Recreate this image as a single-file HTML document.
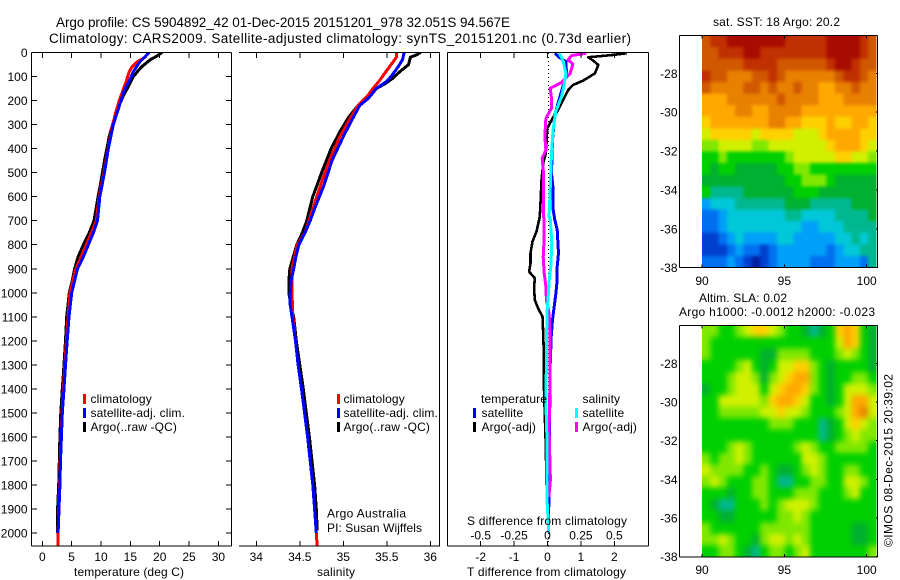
<!DOCTYPE html>
<html>
<head>
<meta charset="utf-8">
<title>Argo profile</title>
<style>
html,body{margin:0;padding:0;background:#fff;width:900px;height:580px;overflow:hidden}
svg{display:block}
text{font-family:"Liberation Sans",sans-serif;font-size:12px;fill:#000}
.t{font-size:13.5px}
.lg{letter-spacing:.12px}
</style>
</head>
<body>
<svg id="chart" xmlns="http://www.w3.org/2000/svg" width="900" height="580" viewBox="0 0 900 580">
<defs>
<clipPath id="clipSst"><rect x="702" y="35.5" width="174.5" height="231.5"/></clipPath>
<clipPath id="clipSla"><rect x="702" y="325.7" width="174.5" height="231"/></clipPath>
<clipPath id="clipP1"><rect x="32" y="52" width="199" height="494"/></clipPath>
<clipPath id="clipP2"><rect x="239" y="52" width="200" height="494"/></clipPath>
<clipPath id="clipP3"><rect x="448" y="52" width="200" height="494"/></clipPath>
</defs>
<rect x="0" y="0" width="900" height="580" fill="#fff"/>
<text class="t" x="56" y="27" textLength="454" lengthAdjust="spacing">Argo profile: CS 5904892_42 01-Dec-2015 20151201_978 32.051S 94.567E</text>
<text class="t" x="49" y="43" textLength="582" lengthAdjust="spacing">Climatology: CARS2009. Satellite-adjusted climatology: synTS_20151201.nc (0.73d earlier)</text>
<g id="layer"></g>
<text x="74" y="576" textLength="110" lengthAdjust="spacing">temperature (deg C)</text>
<text x="317" y="576" textLength="38" lengthAdjust="spacing">salinity</text>
<text x="467" y="576" textLength="159" lengthAdjust="spacing">T difference from climatology</text>
<text x="467" y="525" textLength="160" lengthAdjust="spacing">S difference from climatology</text>
<text x="327" y="517.5" textLength="79" lengthAdjust="spacing">Argo Australia</text>
<text x="327" y="532" textLength="95" lengthAdjust="spacing">PI: Susan Wijffels</text>
<text x="713" y="26" textLength="127" lengthAdjust="spacing">sat. SST: 18 Argo: 20.2</text>
<text x="699" y="302" textLength="88" lengthAdjust="spacing">Altim. SLA: 0.02</text>
<text x="679" y="316" textLength="196" lengthAdjust="spacing">Argo h1000: -0.0012 h2000: -0.023</text>
<text transform="translate(892.5,547) rotate(-90)" textLength="173" lengthAdjust="spacing">©IMOS 08-Dec-2015 20:39:02</text>
</svg>
<script>
// ---------- tick labels ----------
const depthTicks = [0,100,200,300,400,500,600,700,800,900,1000,1100,1200,1300,1400,1500,1600,1700,1800,1900,2000];
const tempTicks = [0,5,10,15,20,25,30];
const salTicks = [34,34.5,35,35.5,36];
const tDiffTicks = [-2,-1,0,1,2];
const sDiffTicks = [-0.5,-0.25,0,0.25,0.5];
const lonTicks = [90,95,100];
const latTicks = [-28,-30,-32,-34,-36,-38];

// ---------- temperature profiles ----------
const tempClimDepth = [0,20,40,60,80,120,160,200,250,300,400,500,600,700,800,900,1000,1100,1200,1300,1400,1500,1600,1700,1800,1900,2000,2055];
const tempClimVals = [18.1,17.5,16.1,15.3,14.8,14.3,13.7,13.1,12.5,12,11.2,10.5,9.7,9.2,7.5,5.7,4.7,4.4,4.1,3.85,3.6,3.35,3.2,3.05,2.95,2.8,2.7,2.7];
const tempSatDepth = [0,40,80,110,150,200,300,400,500,600,700,750,800,850,900,950,1000,1100,1200,1300,1400,1500,1600,1700,1800,1900,2000];
const tempSatVals = [18.2,16.6,15.5,15,14.1,13.4,12.1,11.25,10.6,9.8,9.4,8.7,7.85,7,6,5.5,5,4.55,4.25,3.95,3.7,3.4,3.25,3.1,3,2.85,2.7];
const tempArgoDepth = [0,15,30,60,100,140,180,220,280,350,450,550,600,700,750,800,850,900,950,1000,1100,1200,1300,1400,1500,1600,1700,1800,1900,2000];
const tempArgoVals = [20.4,19.5,18.4,16.9,15.5,14.7,13.8,13.1,12.2,11.4,10.6,9.9,9.5,8.8,8,7,6.1,5.5,5.1,4.6,4.15,3.95,3.7,3.4,3.15,3,2.9,2.8,2.6,2.6];

// ---------- salinity profiles ----------
const salClimDepth = [0,20,40,80,120,150,180,220,280,350,450,550,650,750,800,900,1000,1100,1200,1300,1400,1500,1600,1700,1800,1900,2000,2055];
const salClimVals = [35.61,35.61,35.57,35.49,35.41,35.34,35.28,35.17,35.07,34.96,34.84,34.74,34.65,34.56,34.47,34.41,34.41,34.42,34.45,34.48,34.52,34.555,34.59,34.62,34.65,34.67,34.69,34.7];
const salSatDepth = [0,30,60,90,120,150,190,220,280,350,450,550,650,700,750,800,850,900,950,1000,1050,1100,1200,1300,1400,1500,1600,1700,1800,1900,2000];
const salSatVals = [35.7,35.68,35.63,35.57,35.5,35.38,35.29,35.19,35.1,35,34.87,34.78,34.67,34.62,34.56,34.49,34.455,34.43,34.4,34.39,34.39,34.41,34.45,34.48,34.52,34.555,34.59,34.62,34.65,34.67,34.69];
const salArgoDepth = [0,10,20,50,80,110,130,150,180,220,270,330,400,500,600,700,750,800,850,900,950,1000,1050,1100,1200,1300,1400,1500,1600,1700,1800,1900,1990];
const salArgoVals = [35.89,35.84,35.77,35.75,35.65,35.56,35.48,35.38,35.28,35.17,35.06,34.96,34.86,34.75,34.65,34.58,34.53,34.465,34.425,34.385,34.375,34.375,34.395,34.43,34.46,34.5,34.54,34.575,34.61,34.64,34.67,34.69,34.7];

// ---------- difference profiles ----------
const tDiffArgoDepth = [3,10,20,34,52,87,117,135,156,191,239,274,316,378,420,461,531,600,683,697,745,787,835,877,912,939,981,1030,1064,1099,1168,1251,1376,1640,1800];
const tDiffArgoVals = [2.37,1.97,1.22,1.37,1.52,1.42,1.07,0.77,0.62,0.49,0.32,0.15,-0.01,-0.03,-0.05,-0.13,-0.18,-0.2,-0.23,-0.25,-0.33,-0.45,-0.51,-0.51,-0.55,-0.38,-0.4,-0.38,-0.28,-0.15,-0.13,-0.11,-0.11,-0.05,-0.03];
const tDiffSatDepth = [3,24,38,87,128,184,260,364,503,572,655,697,738,835,891,946,1002,1057,1113,1182,1349,1460,2000];
const tDiffSatVals = [0.22,0.39,0.55,0.57,0.49,0.37,0.22,0.15,0.12,0.17,0.17,0.22,0.29,0.33,0.29,0.29,0.25,0.2,0.15,0.11,0.07,0.07,0.03];
const sDiffArgoDepth = [3,13,31,48,87,125,149,191,232,274,350,406,440,503,683,697,794,850,919,974,1030,1085,1168,1390,1570,1780,1850];
const sDiffArgoVals = [0.29,0.18,0.155,0.19,0.17,0.105,0.02,0.03,0.03,-0.012,-0.02,-0.012,-0.04,-0.03,-0.03,-0.025,-0.027,-0.032,-0.025,-0.012,-0.008,0.012,0.018,0.018,0.012,0.022,0.01];
const sDiffSatDepth = [3,38,87,142,184,246,322,420,545,683,697,794,891,953,1016,1071,1210,1390,1500,1640,1875,1987,2000];
const sDiffSatVals = [0.088,0.118,0.138,0.122,0.105,0.062,0.042,0.03,0.022,0.012,0.022,0.032,0.025,0.012,0.005,-0.002,-0.008,-0.01,-0.01,-0.002,-0.002,0.008,0.008];

// ---------- map colour levels (rows north to south, columns 90E to 100.5E) ----------
const sstLevels = [
[13,14,14,15,15,15,15,15,15,15,14,14,14,14,14,15,15,15,15,14,13],
[13,13,14,14,14,15,15,14,14,14,14,14,14,14,14,15,15,15,15,14,13],
[13,13,13,13,13,14,14,14,14,13,13,13,13,13,13,14,15,15,14,13,13],
[14,13,13,12,12,12,13,13,14,13,12,12,12,12,12,12,13,14,14,13,12],
[13,12,12,12,12,13,13,12,13,12,12,13,12,12,11,11,12,12,13,12,12],
[11,11,11,12,12,12,12,12,12,13,12,12,12,12,11,11,11,12,12,12,12],
[11,11,11,11,12,12,11,11,12,12,12,12,11,11,11,11,11,11,11,11,11],
[10,11,11,11,11,11,11,11,12,12,11,11,10,10,10,11,10,10,11,11,10],
[9,10,10,10,10,10,9,10,10,10,10,9,9,9,10,11,11,11,11,10,10],
[8,8,9,9,9,9,8,8,9,9,9,9,9,9,9,10,11,11,11,10,9],
[7,7,8,7,7,7,7,7,7,7,8,9,9,9,9,9,10,10,9,9,8],
[7,6,7,7,6,6,6,6,6,7,7,8,8,7,7,7,7,7,7,7,7],
[6,6,6,6,6,6,6,6,6,6,7,7,8,8,8,7,6,6,6,6,6],
[7,5,5,5,5,6,6,6,6,6,6,7,7,7,6,6,6,6,6,6,6],
[3,4,4,4,5,5,5,5,5,5,6,6,6,5,5,5,5,5,6,6,6],
[2,2,3,4,4,4,4,4,4,4,5,5,4,4,4,4,5,5,5,5,6],
[2,2,3,4,4,4,4,4,4,4,4,4,3,3,4,4,4,5,5,5,5],
[1,1,2,3,4,3,3,3,3,4,4,3,3,3,3,3,4,4,5,4,5],
[1,1,1,2,3,2,2,1,2,3,3,3,3,3,3,2,3,4,4,5,5],
[2,2,2,3,2,1,0,1,2,3,3,3,3,2,2,2,3,3,3,2,5]
];
const slaLevels = [
[8,8,7,7,8,9,10,10,9,8,7,7,6,5,6,7,10,11,10,7,6],
[8,7,7,7,7,7,7,7,7,7,7,7,7,7,7,7,9,11,10,7,6],
[8,7,7,7,7,7,7,6,6,8,8,8,8,7,7,7,8,9,8,7,6],
[7,7,7,7,8,9,7,6,7,9,9,10,10,8,7,6,7,7,7,7,6],
[7,7,7,8,9,9,8,6,8,9,10,11,11,8,7,6,7,7,8,8,7],
[6,7,7,8,9,9,9,7,9,10,11,11,10,8,7,6,7,9,9,9,8],
[7,7,9,9,9,9,9,8,10,11,11,10,9,7,7,6,7,9,11,11,9],
[7,7,8,8,8,8,8,9,9,10,9,9,8,7,7,7,8,9,11,12,9],
[7,7,7,7,7,7,7,7,8,8,8,7,7,7,5,6,7,9,10,9,8],
[7,7,7,7,7,7,7,7,7,7,7,7,7,7,5,6,7,8,9,8,8],
[7,7,7,8,9,8,7,7,7,7,7,8,9,8,7,7,8,8,8,8,7],
[8,7,8,8,9,8,7,7,7,7,7,7,9,9,8,7,7,7,7,7,7],
[9,8,8,8,8,7,7,8,7,6,6,7,8,9,8,7,7,8,8,7,7],
[8,9,8,7,7,7,8,8,7,5,5,7,7,8,8,7,7,9,9,8,7],
[7,7,7,6,7,7,8,8,7,7,7,8,8,8,7,7,7,8,9,7,7],
[7,6,5,5,7,7,7,8,7,8,9,9,9,8,7,7,7,7,7,7,7],
[7,7,6,6,7,7,7,7,7,8,8,9,8,7,7,7,7,7,7,7,7],
[8,7,7,7,7,7,7,8,8,8,8,8,8,7,7,7,7,7,6,6,7],
[8,8,9,8,7,7,6,8,9,9,8,9,8,7,7,7,7,7,6,6,7],
[7,7,8,8,7,6,5,7,8,8,7,8,9,7,7,7,7,7,7,7,8]
];
const levelColors = ["#0020a0","#0040d0","#0070f0","#00a0f8","#00c8d8","#00b890","#00b030","#00d000","#80e800","#d0f000","#ffd000","#ffa800","#e88000","#d05800","#c03000","#a80c00"];

// ---------- axis functions ----------
const NS = "http://www.w3.org/2000/svg";
const layer = document.getElementById("layer");
const yDepth = d => 52.5 + 0.2403 * d;
const xTemp = v => 42.3 + 5.87 * v;
const xSal = v => 256.3 + 87 * (v - 34);
const xTDiff = v => 547.5 + 33.4 * v;
const xSDiff = v => 547.5 + 133.6 * v;
const xLon = v => 702 + 16.47 * (v - 90);
const yLatSst = v => 73.4 + 19.42 * (-28 - v);
const yLatSla = v => 363.3 + 19.34 * (-28 - v);

function add(parent, tag, attrs) {
  const el = document.createElementNS(NS, tag);
  for (const k in attrs) el.setAttribute(k, attrs[k]);
  parent.appendChild(el);
  return el;
}
function seg(parent, x1, y1, x2, y2) {
  const el = add(parent, "line", {x1: x1, y1: y1, x2: x2, y2: y2, stroke: "#000", "stroke-width": 1, "shape-rendering": "crispEdges"});
  
  
  return el;
}
function label(parent, x, y, str, anchor) {
  const el = add(parent, "text", {x: x, y: y, "text-anchor": anchor});
  el.textContent = str;
  
  
  return el;
}
function profile(parent, clip, depths, vals, xFn, color, width, name) {
  const pts = depths.map((d, i) => xFn(vals[i]).toFixed(1) + "," + yDepth(d).toFixed(1)).join(" ");
  const el = add(parent, "polyline", {points: pts, fill: "none", stroke: color, "stroke-width": width, "stroke-linejoin": "round", "clip-path": "url(#" + clip + ")", "shape-rendering": "crispEdges"});
  
  
}
function legendRow(parent, barX, textX, baseline, color, str) {
  if (color) {
    const bar = add(parent, "rect", {x: barX, y: baseline - 9, width: 3, height: 10, fill: color});
    
    
  }
  const t = add(parent, "text", {x: textX, y: baseline, class: "lg"});
  t.textContent = str;
  
  
}
function heatmap(parent, levels, left, top, width, height, clip, blur, name) {
  const outer = add(parent, "g", {"clip-path": "url(#" + clip + ")"});
  
  
  const inner = add(outer, "g", blur ? {style: "filter:blur(" + blur + "px)"} : {});
  const rows = levels.length, cols = levels[0].length;
  const cw = width / cols, ch = height / rows;
  levels.forEach((row, r) => row.forEach((v, c) => {
    let x = left + c * cw, y = top + r * ch, w = cw + 0.6, h = ch + 0.6;
    if (c === 0) { x -= 10; w += 10; }
    if (c === cols - 1) { w += 10; }
    if (r === 0) { y -= 10; h += 10; }
    if (r === rows - 1) { h += 10; }
    const cell = add(inner, "rect", {x: x.toFixed(2), y: y.toFixed(2), width: w.toFixed(2), height: h.toFixed(2), fill: levelColors[Math.max(0, Math.min(levelColors.length - 1, Math.round(v)))], "shape-rendering": "crispEdges"});
    
    
  }));
}

// ---------- panel 1: temperature ----------
const p1 = add(layer, "g", {});


profile(p1, "clipP1", tempArgoDepth, tempArgoVals, xTemp, "#000", 3, "temperature-argo-line");
profile(p1, "clipP1", tempClimDepth, tempClimVals, xTemp, "#f00", 3, "temperature-climatology-line");
profile(p1, "clipP1", tempSatDepth, tempSatVals, xTemp, "#00f", 3, "temperature-satellite-line");
seg(p1, 31.5, 52.5, 231.5, 52.5); seg(p1, 31.5, 546, 231.5, 546); seg(p1, 31.5, 52.5, 31.5, 546); seg(p1, 231.5, 52.5, 231.5, 546);
depthTicks.forEach(d => {
  seg(p1, 32, yDepth(d), 37, yDepth(d));
  seg(p1, 226, yDepth(d), 231, yDepth(d));
  label(p1, 27.5, yDepth(d) + 4.5, String(d), "end");
});
tempTicks.forEach(v => {
  seg(p1, xTemp(v), 53, xTemp(v), 58);
  seg(p1, xTemp(v), 541, xTemp(v), 546);
  label(p1, xTemp(v), 561, String(v), "middle");
});
legendRow(p1, 83, 90.5, 403, "#f00", "climatology");
legendRow(p1, 83, 90.5, 417, "#00f", "satellite-adj. clim.");
legendRow(p1, 83, 90.5, 431, "#000", "Argo(..raw -QC)");

// ---------- panel 2: salinity ----------
const p2 = add(layer, "g", {});


profile(p2, "clipP2", salArgoDepth, salArgoVals, xSal, "#000", 3, "salinity-argo-line");
profile(p2, "clipP2", salClimDepth, salClimVals, xSal, "#f00", 3, "salinity-climatology-line");
profile(p2, "clipP2", salSatDepth, salSatVals, xSal, "#00f", 3, "salinity-satellite-line");
seg(p2, 239, 52.5, 440, 52.5); seg(p2, 239, 546, 440, 546); seg(p2, 439.5, 52.5, 439.5, 546);
salTicks.forEach(v => {
  seg(p2, xSal(v), 53, xSal(v), 58);
  seg(p2, xSal(v), 541, xSal(v), 546);
  label(p2, xSal(v), 561, String(v), "middle");
});
legendRow(p2, 337, 343.5, 403, "#f00", "climatology");
legendRow(p2, 337, 343.5, 417, "#00f", "satellite-adj. clim.");
legendRow(p2, 337, 343.5, 431, "#000", "Argo(..raw -QC)");

// ---------- panel 3: differences ----------
const p3 = add(layer, "g", {});


const zero = add(p3, "line", {x1: 548.5, y1: 53, x2: 548.5, y2: 546, stroke: "#000", "stroke-width": 1, "stroke-dasharray": "1 3", "shape-rendering": "crispEdges"});


profile(p3, "clipP3", tDiffArgoDepth, tDiffArgoVals, xTDiff, "#000", 2.6, "t-difference-argo-line");
profile(p3, "clipP3", tDiffSatDepth, tDiffSatVals, xTDiff, "#00f", 3, "t-difference-satellite-line");
profile(p3, "clipP3", sDiffArgoDepth, sDiffArgoVals, xSDiff, "#f0f", 3, "s-difference-argo-line");
profile(p3, "clipP3", sDiffSatDepth, sDiffSatVals, xSDiff, "#0ff", 3, "s-difference-satellite-line");
seg(p3, 447.5, 52.5, 648.5, 52.5); seg(p3, 447.5, 546, 648.5, 546); seg(p3, 447.5, 52.5, 447.5, 546); seg(p3, 648.5, 52.5, 648.5, 546);
tDiffTicks.forEach(v => {
  seg(p3, xTDiff(v), 53, xTDiff(v), 58);
  seg(p3, xTDiff(v), 541, xTDiff(v), 546);
  label(p3, xTDiff(v), 561, String(v), "middle");
});
sDiffTicks.forEach(v => {
  label(p3, xSDiff(v), 539.5, String(v), "middle");
});
legendRow(p3, 473, 481, 403, null, "temperature");
legendRow(p3, 473, 481.5, 417, "#00f", "satellite");
legendRow(p3, 473, 481.5, 431, "#000", "Argo(-adj)");
legendRow(p3, 575, 582.5, 403, null, "salinity");
legendRow(p3, 575, 582.5, 417, "#0ff", "satellite");
legendRow(p3, 575, 582.5, 431, "#f0f", "Argo(-adj)");

// ---------- maps ----------
function mapPanel(levels, top, bottom, yFn, clip, blur, name, labelBaseline) {
  const g = add(layer, "g", {});
  
  
  heatmap(g, levels, 702, top, 174.5, bottom - top, clip, blur, name + '-heatmap');
  seg(g, 679.5, top, 877.5, top); seg(g, 679.5, bottom, 877.5, bottom);
  seg(g, 679.5, top, 679.5, bottom); seg(g, 877.5, top, 877.5, bottom);
  latTicks.forEach(v => {
    seg(g, 876, yFn(v), 878, yFn(v));
    label(g, 677.5, yFn(v) + 4.5, String(v), "end");
  });
  lonTicks.forEach(v => {
    seg(g, xLon(v), top, xLon(v), top + 3);
    seg(g, xLon(v), bottom - 3, xLon(v), bottom);
    label(g, xLon(v), labelBaseline, String(v), "middle");
  });
}
mapPanel(sstLevels, 35.5, 267.5, yLatSst, "clipSst", 1.5, "sst-map", 285);
mapPanel(slaLevels, 325.5, 557, yLatSla, "clipSla", 3, "sla-map", 574);
</script>
</body>
</html>
